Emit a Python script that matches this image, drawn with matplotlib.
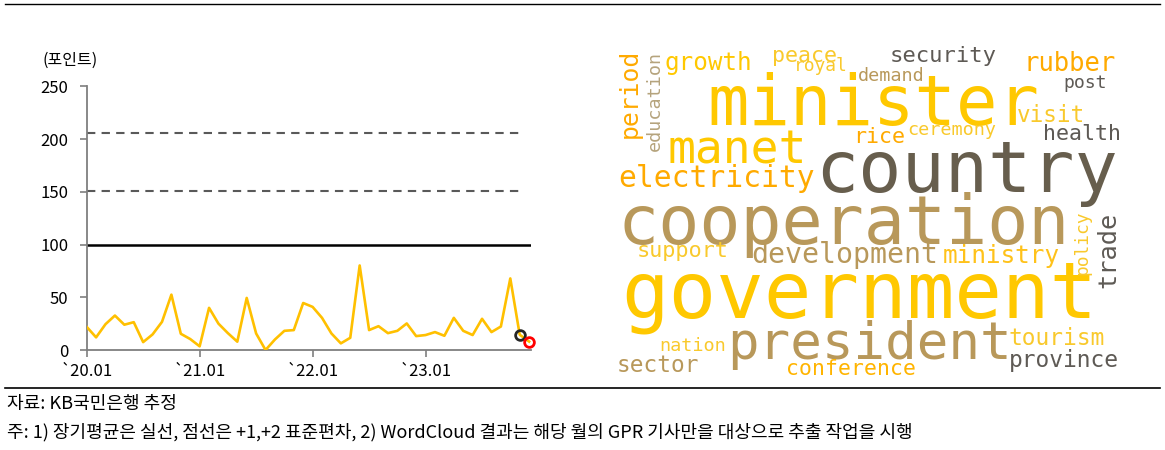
import numpy as np
import matplotlib
matplotlib.use("Agg")
import matplotlib.pyplot as plt
from matplotlib.lines import Line2D

plt.rcParams['font.family'] = ['Noto Sans CJK KR', 'DejaVu Sans']

# 월별 GPR 지수 (2020.01 ~ 2023.12)
gpr = [22, 12, 24.5, 32.7, 24, 26.4, 7.5, 14.8, 26.7, 52.5, 15.4, 10.4,
       3.5, 40, 25, 16, 7.9, 49.4, 15.7, 0, 10, 18.2, 18.9, 44.6,
       40.9, 30.5, 15.7, 6.3, 11.6, 80.2, 18.9, 22.6, 16, 18.2, 25.2, 13.2,
       14.2, 17, 13.5, 30.5, 18.2, 14.2, 29.6, 17, 22.3, 67.9, 14.5, 8]
long_avg = 100
sd_lines = [151, 206]
xtick_pos = [0, 12, 24, 36]
xtick_labels = ['`20.01', '`21.01', '`22.01', '`23.01']
yticks = [0, 50, 100, 150, 200, 250]

# word cloud 단어
words_h = ['growth', 'peace', 'royal', 'demand', 'security', 'rubber', 'post',
           'minister', 'visit', 'ceremony', 'rice', 'health', 'manet',
           'electricity', 'country', 'cooperation', 'support', 'development',
           'ministry', 'government', 'president', 'nation', 'tourism',
           'sector', 'province', 'conference']
words_v = ['period', 'education', 'policy', 'trade']

W, H = 1165, 450
fig = plt.figure(figsize=(W / 100, H / 100), dpi=100)
fx = lambda x: x / W
fy = lambda y: 1 - y / H

ax = fig.add_axes([0.0744, 0.2222, 0.3814, 0.5856])
x = np.arange(len(gpr))
ax.plot(x, gpr, color='#FFC000', lw=1.9, zorder=3)
ax.axhline(long_avg, color='black', lw=1.8, zorder=2)
for v in sd_lines:
    ax.hlines(v, 0, 46.4, colors='#595959', lw=1.5, linestyles=(0, (4, 3)))
ax.plot(x[-2], gpr[-2], 'o', mfc='none', mec='#262626', mew=2, ms=7, zorder=4, clip_on=False)
ax.plot(x[-1], gpr[-1], 'o', mfc='none', mec='#FF0000', mew=2, ms=7, zorder=4, clip_on=False)

ax.set_xlim(0, 47.2)
ax.set_ylim(0, 250)
ax.set_xticks(xtick_pos)
ax.set_xticklabels(xtick_labels)
ax.set_yticks(yticks)
for s in ['top', 'right']:
    ax.spines[s].set_visible(False)
for s in ['left', 'bottom']:
    ax.spines[s].set_color('#7F7F7F')
    ax.spines[s].set_linewidth(1.3)
ax.tick_params(axis='both', direction='out', length=5, width=1.2, color='#7F7F7F', labelsize=12)
ax.tick_params(axis='y', pad=8)
ax.tick_params(axis='x', pad=4)
fig.text(fx(42), fy(60), '(포인트)', fontsize=11.5, va='center', ha='left')

# word cloud 배치
Y1, Y2, O, O2 = '#FFC800', '#F9C92C', '#FFAA00', '#FFB400'
T, T2, D, G = '#B8985A', '#B5A37C', '#675E4D', '#5E5A55'
layout_h = {
    'growth': (665, 70, 85, Y1), 'peace': (772, 62, 63, Y2),
    'royal': (794, 71, 52, Y2), 'demand': (858, 81, 65, T),
    'security': (890, 62, 105, G), 'rubber': (1023, 71, 90, O),
    'post': (1063, 88, 42, G), 'minister': (707, 125, 325, Y1),
    'visit': (1017, 122, 66, Y2), 'ceremony': (907, 135, 87, Y2),
    'rice': (853, 143, 50, O), 'health': (1043, 140, 76, G),
    'manet': (667, 163, 135, Y1), 'electricity': (618, 187, 194, O),
    'country': (815, 192, 295, D), 'cooperation': (617, 244, 446, T),
    'support': (637, 257, 90, Y2), 'development': (751, 263, 184, T),
    'ministry': (943, 263, 115, '#FFC21A'), 'government': (621, 317, 468, Y1),
    'president': (727, 359, 279, T), 'nation': (659, 351, 65, Y2),
    'tourism': (1009, 345, 94, Y2), 'sector': (617, 372, 80, T),
    'province': (1009, 367, 108, G), 'conference': (786, 375, 127, O2),
}
layout_v = {
    'period': (630, 93.5, 87, O), 'education': (655, 101, 98, T2),
    'policy': (1082, 243, 63, Y2), 'trade': (1108, 250, 74, G),
}
for w in words_h:
    x0, base, width, col = layout_h[w]
    em = width / (0.602 * len(w) - 0.1)
    fig.text(fx(x0), fy(base), w, fontsize=em * 0.72, color=col,
             family='DejaVu Sans Mono', ha='left', va='baseline')
for w in words_v:
    cx, cy, length, col = layout_v[w]
    em = length / (0.602 * len(w) - 0.1)
    fig.text(fx(cx), fy(cy), w, fontsize=em * 0.72, color=col, rotation=90,
             family='DejaVu Sans Mono', ha='center', va='center')

# 상하단 구분선과 주석
fig.add_artist(Line2D([fx(5), fx(1160)], [fy(4), fy(4)], color='black', lw=1))
fig.add_artist(Line2D([fx(5), fx(1160)], [fy(388), fy(388)], color='black', lw=1.2))
fig.text(fx(7), fy(404), '자료: KB국민은행 추정', fontsize=13, va='center', ha='left')
fig.text(fx(7), fy(432), '주: 1) 장기평균은 실선, 점선은 +1,+2 표준편차, 2) WordCloud 결과는 해당 월의 GPR 기사만을 대상으로 추출 작업을 시행',
         fontsize=13, va='center', ha='left')

fig.savefig('out.png', dpi=100)
